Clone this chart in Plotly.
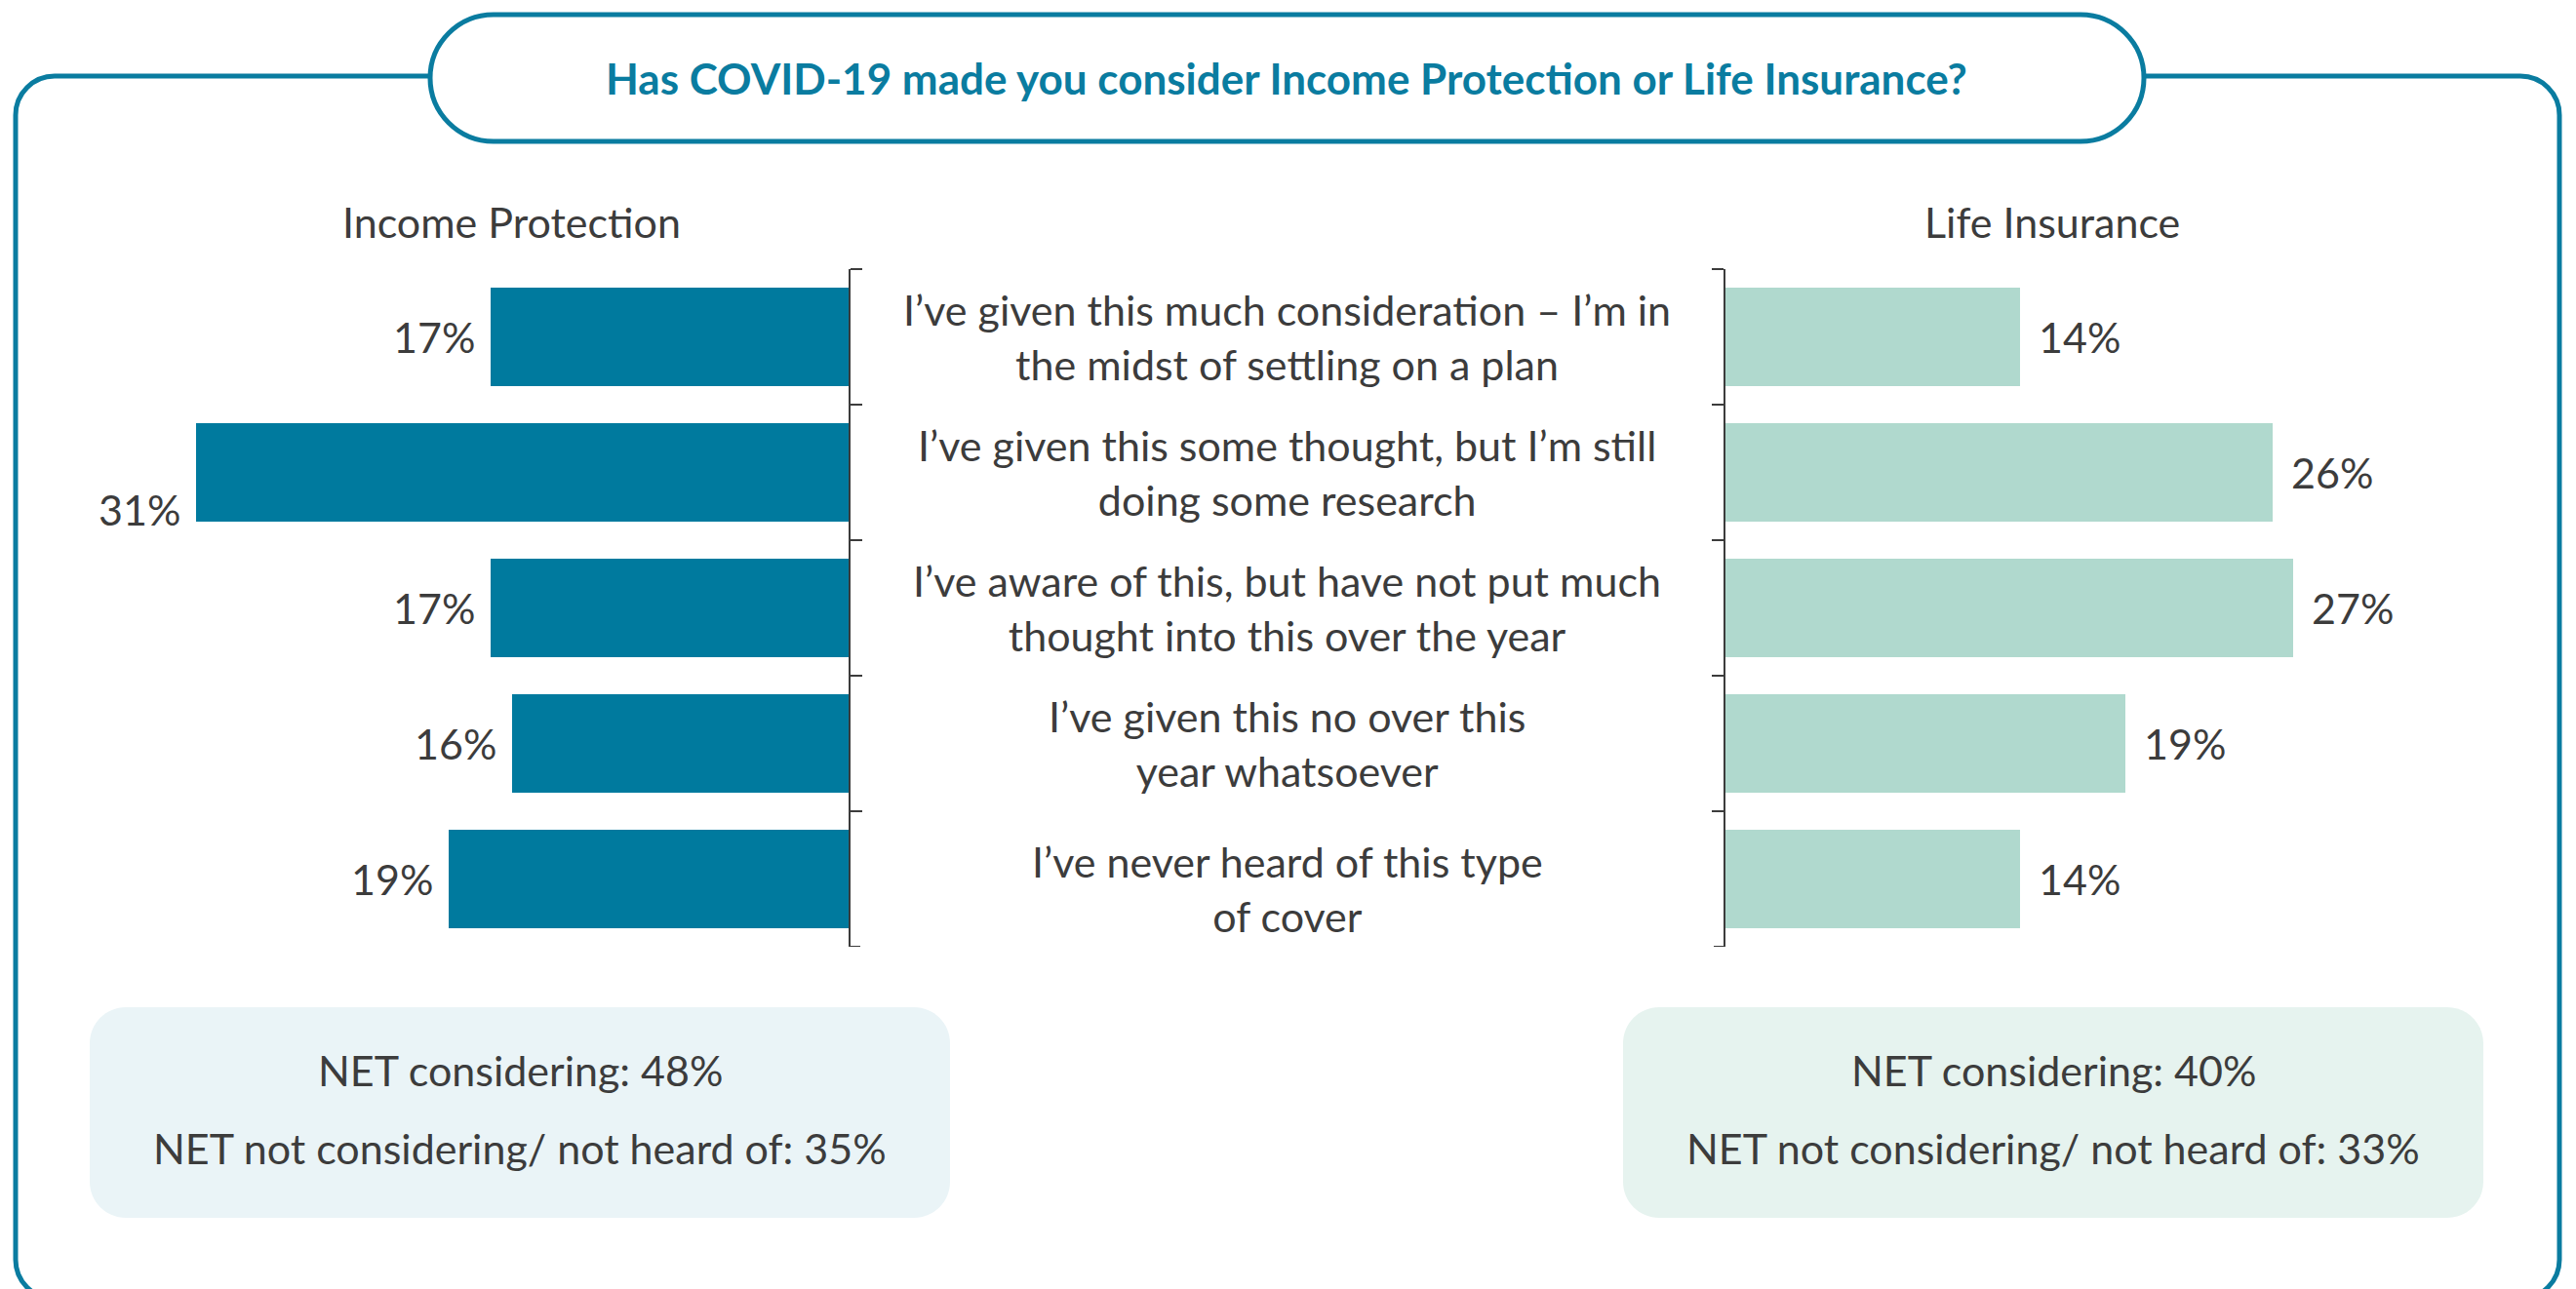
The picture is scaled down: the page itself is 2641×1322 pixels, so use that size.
import plotly.graph_objects as go

# ---- data -------------------------------------------------------------
categories = [
    "I’ve given this much consideration – I’m in<br>the midst of settling on a plan",
    "I’ve given this some thought, but I’m still<br>doing some research",
    "I’ve aware of this, but have not put much<br>thought into this over the year",
    "I’ve given this no over this<br>year whatsoever",
    "I’ve never heard of this type<br>of cover",
]
income_protection = [17, 31, 17, 16, 19]
life_insurance = [14, 26, 27, 19, 14]

panel_titles = ["Income Protection", "Life Insurance"]
net_income = ["NET considering: 48%", "NET not considering/ not heard of: 35%"]
net_life = ["NET considering: 40%", "NET not considering/ not heard of: 33%"]
question = "Has COVID-19 made you consider Income Protection or Life Insurance?"

# ---- styling ----------------------------------------------------------
W, H = 2641, 1322
FONT = "Lato"
TEXT = "#3c3c3c"
TEAL = "#0a7ca0"
BAR_LEFT = "#007a9e"
BAR_RIGHT = "#b0d9ce"
BOX_LEFT = "#eaf4f7"
BOX_RIGHT = "#e6f3ef"
FS = 43
FS_TITLE = 44
XMAX = 35
TICK = 12


def px(x):
    return x / W


def py(y):
    return 1 - y / H


def rounded_rect(x0, y0, x1, y1, r):
    """SVG path (paper coords) of a rounded rectangle given in pixels."""
    k = 0.5523 * r
    pts = [
        ("M", [(x0 + r, y0)]),
        ("L", [(x1 - r, y0)]),
        ("C", [(x1 - r + k, y0), (x1, y0 + r - k), (x1, y0 + r)]),
        ("L", [(x1, y1 - r)]),
        ("C", [(x1, y1 - r + k), (x1 - r + k, y1), (x1 - r, y1)]),
        ("L", [(x0 + r, y1)]),
        ("C", [(x0 + r - k, y1), (x0, y1 - r + k), (x0, y1 - r)]),
        ("L", [(x0, y0 + r)]),
        ("C", [(x0, y0 + r - k), (x0 + r - k, y0), (x0 + r, y0)]),
    ]
    out = []
    for cmd, coords in pts:
        out.append(cmd + " ".join(f"{px(a):.6f},{py(b):.6f}" for a, b in coords))
    return " ".join(out) + " Z"


# plot geometry (pixels)
LEFT_END = 870
RIGHT_START = 1769
PANEL_W = 755
Y_TOP, Y_BOT = 276, 971

fig = go.Figure()

fig.add_trace(go.Bar(
    x=income_protection, y=categories, orientation="h",
    marker=dict(color=BAR_LEFT, line=dict(width=0)), width=0.72,
    xaxis="x", yaxis="y", hoverinfo="skip", showlegend=False,
))
fig.add_trace(go.Bar(
    x=life_insurance, y=categories, orientation="h",
    marker=dict(color=BAR_RIGHT, line=dict(width=0)), width=0.72,
    xaxis="x2", yaxis="y2", hoverinfo="skip", showlegend=False,
))

axis_common = dict(showgrid=False, zeroline=False, showticklabels=False, fixedrange=True)
# the category axis line with boundary ticks forms the bracket beside each panel
cat_axis = dict(
    type="category", range=[4.5, -0.5], showgrid=False, zeroline=False,
    showticklabels=False, showline=True, linecolor=TEXT, linewidth=2,
    ticks="outside", tickson="boundaries", ticklen=TICK, tickwidth=2, tickcolor=TEXT,
    fixedrange=True, domain=[py(Y_BOT), py(Y_TOP)],
)

fig.update_layout(
    width=W, height=H,
    margin=dict(l=0, r=0, t=0, b=0),
    paper_bgcolor="white", plot_bgcolor="rgba(0,0,0,0)",
    font=dict(family=FONT, color=TEXT, size=FS),
    bargap=0,
    xaxis=dict(domain=[px(LEFT_END - PANEL_W), px(LEFT_END)], range=[XMAX, 0], anchor="y", **axis_common),
    xaxis2=dict(domain=[px(RIGHT_START), px(RIGHT_START + PANEL_W)], range=[0, XMAX], anchor="y2", **axis_common),
    yaxis=dict(anchor="x", side="right", **cat_axis),
    yaxis2=dict(anchor="x2", side="left", **cat_axis),
)

annotations = []

# value labels beside each bar; the longest left bar's label drops below centre
for cat, v in zip(categories, income_protection):
    nudge = -38 if v == max(income_protection) else 0
    annotations.append(dict(
        x=v, y=cat, xref="x", yref="y", text=f"{v}%", showarrow=False,
        xanchor="right", yanchor="middle", xshift=-14, yshift=nudge,
        font=dict(size=FS, color=TEXT, family=FONT),
    ))
for cat, v in zip(categories, life_insurance):
    annotations.append(dict(
        x=v, y=cat, xref="x2", yref="y2", text=f"{v}%", showarrow=False,
        xanchor="left", yanchor="middle", xshift=17,
        font=dict(size=FS, color=TEXT, family=FONT),
    ))

# category statements in the centre column
for i, cat in enumerate(categories):
    annotations.append(dict(
        x=px((LEFT_END + RIGHT_START) / 2), y=cat, xref="paper", yref="y",
        text=cat, showarrow=False, align="center",
        xanchor="center", yanchor="middle",
        yshift=-10 if i == len(categories) - 1 else 0,
        font=dict(size=FS, color=TEXT, family=FONT),
    ))

# panel headings
for text, cx in zip(panel_titles, [524, 2104]):
    annotations.append(dict(
        x=px(cx), y=py(227), xref="paper", yref="paper", text=text,
        showarrow=False, xanchor="center", yanchor="middle",
        font=dict(size=FS, color=TEXT, family=FONT),
    ))

# question heading inside the pill
annotations.append(dict(
    x=px(1319), y=py(80), xref="paper", yref="paper",
    text=f"<b>{question}</b>", showarrow=False, xanchor="center", yanchor="middle",
    font=dict(size=FS_TITLE, color=TEAL, family=FONT),
))

# NET summary boxes
for lines, cx in [(net_income, 533), (net_life, 2105)]:
    for line, cy in zip(lines, [1097, 1177]):
        annotations.append(dict(
            x=px(cx), y=py(cy), xref="paper", yref="paper", text=line,
            showarrow=False, xanchor="center", yanchor="middle",
            font=dict(size=FS, color=TEXT, family=FONT),
        ))

last_edge = len(categories) - 0.5
shapes = [
    # outer frame
    dict(type="path", xref="paper", yref="paper", layer="below",
         path=rounded_rect(16, 78, 2624, 1332, 40),
         line=dict(color=TEAL, width=5), fillcolor="rgba(0,0,0,0)"),
    # question pill
    dict(type="path", xref="paper", yref="paper", layer="below",
         path=rounded_rect(441, 15, 2198, 145, 65),
         line=dict(color=TEAL, width=5), fillcolor="white"),
    # summary boxes
    dict(type="path", xref="paper", yref="paper", layer="below",
         path=rounded_rect(92, 1033, 974, 1249, 37),
         line=dict(width=0), fillcolor=BOX_LEFT),
    dict(type="path", xref="paper", yref="paper", layer="below",
         path=rounded_rect(1664, 1033, 2546, 1249, 37),
         line=dict(width=0), fillcolor=BOX_RIGHT),
    # closing ticks at the foot of each bracket
    dict(type="line", xref="paper", yref="y", x0=px(LEFT_END), x1=px(LEFT_END + TICK),
         y0=last_edge, y1=last_edge, line=dict(color=TEXT, width=2)),
    dict(type="line", xref="paper", yref="y2", x0=px(RIGHT_START - TICK), x1=px(RIGHT_START),
         y0=last_edge, y1=last_edge, line=dict(color=TEXT, width=2)),
]

fig.update_layout(annotations=annotations, shapes=shapes)

fig.write_html("out.html", config={"displayModeBar": False})
